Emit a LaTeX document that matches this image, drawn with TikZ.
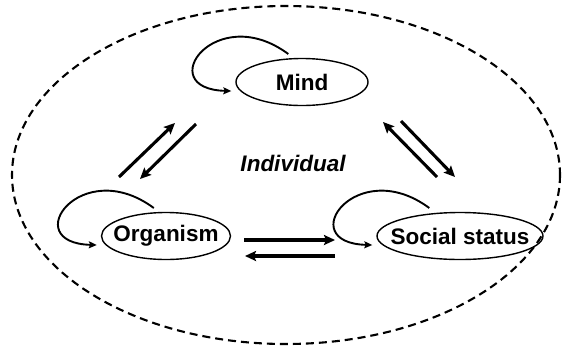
\documentclass[tikz,border=0pt]{standalone}
\usepackage{fontspec}
\setmainfont{Liberation Sans}
\usetikzlibrary{arrows.meta,shapes.geometric}

\tikzset{
    level/.style={ellipse, draw, line width=1.4pt, inner xsep=-30pt, inner ysep=-8pt,
        font=\fontsize{22.5}{24}\selectfont\bfseries},
    flow/.style={line width=3.1pt, -{Stealth[length=11pt,width=10pt,inset=2pt]}},
    selfflow/.style={line width=1.9pt, -{Stealth[length=8pt,width=7pt,inset=1.5pt]}}
}

% loop from the top of a node back into its west side
\newcommand{\selfloop}[1]{%
    \draw[selfflow] ([shift={(53,-28)}]#1.west) .. controls +(-73,-54) and +(-80,-2) .. ([shift={(-4,9)}]#1.west);}

\begin{document}
\begin{tikzpicture}[x=1pt, y=-1pt]
    \useasboundingbox (0,0) rectangle (562,349);

    % individual boundary
    \draw[line width=2.1pt, dash pattern=on 8pt off 5pt] (286,175) ellipse [x radius=274, y radius=169];
    \node[font=\fontsize{22.5}{24}\selectfont\bfseries\itshape] (individual) at (293,163) {Individual};

    % levels
    \node[level, minimum width=132pt, minimum height=47pt] (mind) at (302,82) {Mind};
    \node[level, minimum width=129pt, minimum height=47pt] (organism) at (166,236) {Organism};
    \node[level, minimum width=166pt, minimum height=47pt] (social) at (460,236) {Social status};

    % self loops
    \selfloop{mind}
    \selfloop{organism}
    \selfloop{social}

    % mutual influences
    \draw[flow] ([shift={(-47,-59)}]organism.center) -- ([shift={(-127,41)}]mind.center);
    \draw[flow] ([shift={(-106,42)}]mind.center) -- ([shift={(-26,-57)}]organism.center);
    \draw[flow] ([shift={(-23,-59)}]social.center) -- ([shift={(81,40)}]mind.center);
    \draw[flow] ([shift={(99,39)}]mind.center) -- ([shift={(-5,-59)}]social.center);
    \draw[flow] ([shift={(78,4)}]organism.center) -- ([shift={(-125,4)}]social.center);
    \draw[flow] ([shift={(-125,20)}]social.center) -- ([shift={(79,20)}]organism.center);

\end{tikzpicture}
\end{document}
